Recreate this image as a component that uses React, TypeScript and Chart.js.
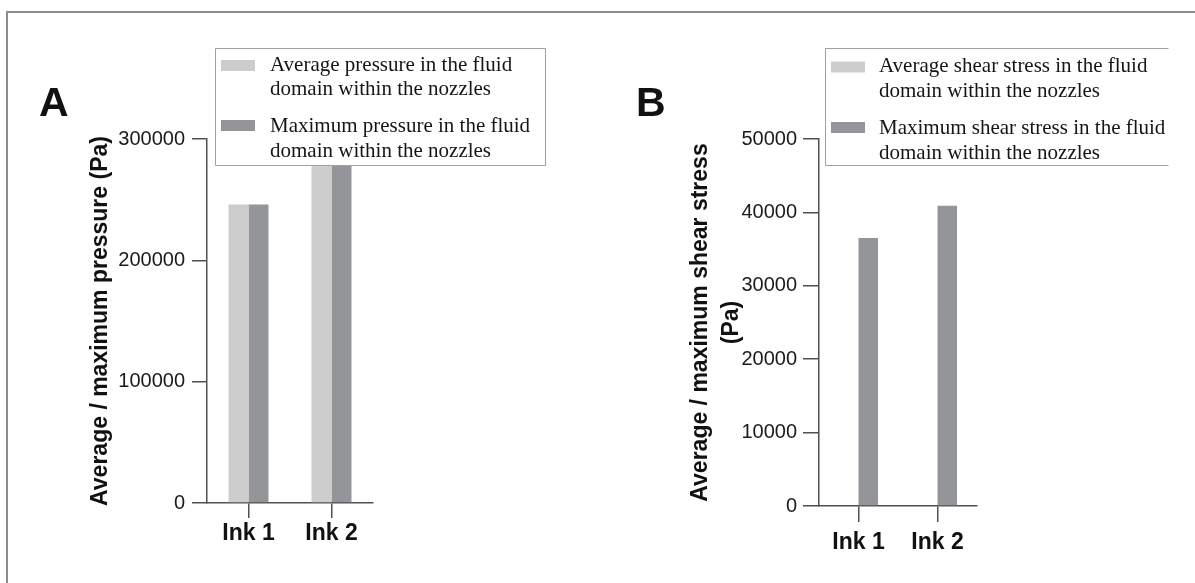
import React, { useEffect, useRef } from "react";
import { Chart, registerables } from "chart.js";

Chart.register(...registerables);

// ---------- data ----------
const categories = ["Ink 1", "Ink 2"];

const avgPressure = [246000, 285000];
const maxPressure = [246000, 285000];
const pressureTicks = [0, 100000, 200000, 300000];
const pressureTitle = "Average / maximum pressure (Pa)";
const pressureLegendAvg = ["Average pressure in the fluid", "domain within the nozzles"];
const pressureLegendMax = ["Maximum pressure in the fluid", "domain within the nozzles"];

const avgShear = [0, 0];
const maxShear = [36500, 40900];
const shearTicks = [0, 10000, 20000, 30000, 40000, 50000];
const shearTitle = ["Average / maximum shear stress", "(Pa)"];
const shearLegendAvg = ["Average shear stress in the fluid", "domain within the nozzles"];
const shearLegendMax = ["Maximum shear stress in the fluid", "domain within the nozzles"];

// ---------- styles ----------
const LIGHT = "#cdcdcd";
const DARK = "#939598";
const AXIS = "#505050";
const SANS = "'Liberation Sans', Arial, sans-serif";
const SERIF = "'Liberation Serif', 'Times New Roman', serif";

type Geo = {
  width: number;
  yWidth: number;
  padTop: number;
  xHeight: number;
  padRight: number;
  titlePad: number;
  titleLH: number;
  yTickLen: number;
  yTickPad: number;
  xTickLen: number;
  xTickPad: number;
  catPct: number;
  legend: {
    x: number;
    y: number;
    right: number;
    h: number;
    noRight: boolean;
    swX: number;
    swW: number;
    swH: number;
    swY: number[];
    textX: number;
    lineY: number[][];
  };
};

function makeLegendPlugin(geo: Geo, lines: string[][], colors: string[]) {
  return {
    id: "boxLegend",
    afterDraw(chart: any) {
      const ctx = chart.ctx as CanvasRenderingContext2D;
      const L = geo.legend;
      ctx.save();
      ctx.fillStyle = "#ffffff";
      ctx.fillRect(L.x, L.y, L.right - L.x, L.h);
      ctx.strokeStyle = "#a0a0a0";
      ctx.lineWidth = 1;
      ctx.beginPath();
      ctx.moveTo(L.right + 0.5, L.y + 0.5);
      ctx.lineTo(L.x + 0.5, L.y + 0.5);
      ctx.lineTo(L.x + 0.5, L.y + L.h + 0.5);
      ctx.lineTo(L.right + 0.5, L.y + L.h + 0.5);
      if (!L.noRight) ctx.lineTo(L.right + 0.5, L.y + 0.5);
      ctx.stroke();
      ctx.font = `21px ${SERIF}`;
      ctx.textBaseline = "middle";
      ctx.textAlign = "left";
      lines.forEach((item, i) => {
        ctx.fillStyle = colors[i];
        ctx.fillRect(L.swX, L.swY[i], L.swW, L.swH);
        ctx.fillStyle = "#151515";
        item.forEach((t, j) => ctx.fillText(t, L.textX, L.lineY[i][j]));
      });
      ctx.restore();
    },
  };
}

function makeConfig(
  geo: Geo,
  avg: number[],
  max: number[],
  ticks: number[],
  title: string | string[],
  legendLines: string[][]
): any {
  return {
    type: "bar",
    data: {
      labels: categories,
      datasets: [
        {
          label: legendLines[0].join(" "),
          data: avg,
          backgroundColor: LIGHT,
          borderWidth: 0,
          barPercentage: 1,
          categoryPercentage: geo.catPct,
        },
        {
          label: legendLines[1].join(" "),
          data: max,
          backgroundColor: DARK,
          borderWidth: 0,
          barPercentage: 1,
          categoryPercentage: geo.catPct,
        },
      ],
    },
    options: {
      animation: false,
      responsive: false,
      maintainAspectRatio: false,
      layout: {
        padding: { left: 0, top: geo.padTop, right: geo.padRight, bottom: 0 },
      },
      plugins: {
        legend: { display: false },
        tooltip: { enabled: false },
        title: { display: false },
      },
      scales: {
        x: {
          type: "category",
          offset: true,
          grid: {
            offset: false,
            drawOnChartArea: false,
            drawTicks: true,
            tickLength: geo.xTickLen,
            color: AXIS,
            lineWidth: 1.5,
          },
          border: { display: true, color: AXIS, width: 1.5 },
          ticks: {
            color: "#111111",
            padding: geo.xTickPad,
            font: { family: SANS, size: 23, weight: "bold" },
            maxRotation: 0,
          },
          afterFit: (s: any) => {
            s.height = geo.xHeight;
          },
        },
        y: {
          min: ticks[0],
          max: ticks[ticks.length - 1],
          grid: {
            drawOnChartArea: false,
            drawTicks: true,
            tickLength: geo.yTickLen,
            color: AXIS,
            lineWidth: 1.5,
          },
          border: { display: true, color: AXIS, width: 1.5 },
          ticks: {
            stepSize: ticks[1] - ticks[0],
            color: "#1a1a1a",
            padding: geo.yTickPad,
            font: { family: SANS, size: 20 },
            callback: (v: any) => String(v),
          },
          title: {
            display: true,
            text: title,
            color: "#111111",
            font: { family: SANS, size: 23, weight: "bold", lineHeight: geo.titleLH },
            padding: { top: geo.titlePad, bottom: 0 },
          },
          afterFit: (s: any) => {
            s.width = geo.yWidth;
          },
        },
      },
    },
    plugins: [makeLegendPlugin(geo, legendLines, [LIGHT, DARK])],
  };
}

const geoA: Geo = {
  width: 600,
  yWidth: 207,
  padTop: 139,
  xHeight: 80,
  padRight: 227,
  titlePad: 87,
  titleLH: 1.2,
  yTickLen: 15,
  yTickPad: 7,
  xTickLen: 15,
  xTickPad: 2,
  catPct: 0.482,
  legend: {
    x: 215,
    y: 48,
    right: 545,
    h: 117,
    noRight: false,
    swX: 221,
    swW: 34,
    swH: 11,
    swY: [60, 120],
    textX: 270,
    lineY: [
      [65, 89.5],
      [126, 151],
    ],
  },
};

const geoB: Geo = {
  width: 595,
  yWidth: 219,
  padTop: 139,
  xHeight: 77,
  padRight: 218,
  titlePad: 85,
  titleLH: 31 / 23,
  yTickLen: 16,
  yTickPad: 6,
  xTickLen: 16,
  xTickPad: 7,
  catPct: 0.494,
  legend: {
    x: 225,
    y: 48,
    right: 568,
    h: 117,
    noRight: true,
    swX: 231,
    swW: 34,
    swH: 11,
    swY: [61.5, 122],
    textX: 279,
    lineY: [
      [66.5, 91.5],
      [128, 153],
    ],
  },
};

function Panel(props: { geo: Geo; left: number; config: any }) {
  const ref = useRef<HTMLCanvasElement | null>(null);
  useEffect(() => {
    if (!ref.current) return;
    const chart = new Chart(ref.current, props.config);
    return () => chart.destroy();
  }, []);
  return (
    <canvas
      ref={ref}
      width={props.geo.width}
      height={583}
      style={{
        position: "absolute",
        left: props.left,
        top: 0,
        width: props.geo.width,
        height: 583,
        display: "block",
      }}
    />
  );
}

export default function App() {
  const cfgA = makeConfig(geoA, avgPressure, maxPressure, pressureTicks, pressureTitle, [
    pressureLegendAvg,
    pressureLegendMax,
  ]);
  const cfgB = makeConfig(geoB, avgShear, maxShear, shearTicks, shearTitle, [
    shearLegendAvg,
    shearLegendMax,
  ]);
  const letter: React.CSSProperties = {
    position: "absolute",
    fontFamily: SANS,
    fontWeight: "bold",
    fontSize: 41,
    lineHeight: "41px",
    color: "#111",
    margin: 0,
  };
  return (
    <div
      style={{
        position: "fixed",
        left: 0,
        top: 0,
        width: 1195,
        height: 583,
        background: "#ffffff",
        overflow: "hidden",
      }}
    >
      <div style={{ position: "absolute", left: 6, top: 11, width: 1189, height: 2, background: "#8c8c8c" }} />
      <div style={{ position: "absolute", left: 6, top: 11, width: 2, height: 572, background: "#8c8c8c" }} />
      <Panel geo={geoA} left={0} config={cfgA} />
      <Panel geo={geoB} left={600} config={cfgB} />
      <div style={{ ...letter, left: 39, top: 82 }}>A</div>
      <div style={{ ...letter, left: 636, top: 82 }}>B</div>
    </div>
  );
}
